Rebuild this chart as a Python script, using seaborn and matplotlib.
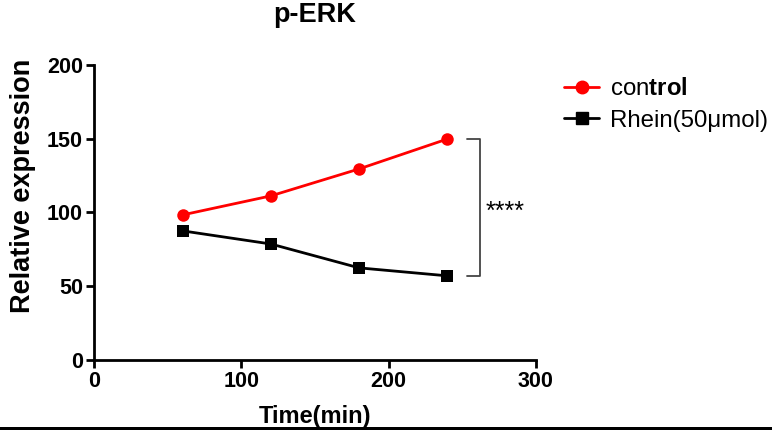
import pandas as pd
import numpy as np
import seaborn as sns
import matplotlib.pyplot as plt
from matplotlib.lines import Line2D

# values
time_min = [60, 120, 180, 240]
control = [98.3, 111.2, 129.5, 149.8]
rhein = [87.5, 78.6, 62.4, 57.0]
groups = ["control", "Rhein(50μmol)"]

df = pd.DataFrame(
    {
        "time": time_min * 2,
        "value": control + rhein,
        "group": [groups[0]] * 4 + [groups[1]] * 4,
    }
)

sns.set_style("ticks")
plt.rcParams["font.family"] = ["Liberation Sans", "DejaVu Sans"]
plt.rcParams["mathtext.fontset"] = "custom"
plt.rcParams["mathtext.rm"] = "Liberation Sans"
plt.rcParams["mathtext.bf"] = "Liberation Sans:bold"
plt.rcParams["text.color"] = "black"
plt.rcParams["axes.labelcolor"] = "black"
plt.rcParams["xtick.color"] = "black"
plt.rcParams["ytick.color"] = "black"
plt.rcParams["axes.edgecolor"] = "black"

fig = plt.figure(figsize=(7.72, 4.30), dpi=100)
ax = fig.add_axes([0.122, 0.163, 0.572, 0.686])

sns.lineplot(
    data=df,
    x="time",
    y="value",
    hue="group",
    style="group",
    palette={groups[0]: "#ff0000", groups[1]: "#000000"},
    markers={groups[0]: "o", groups[1]: "s"},
    dashes=False,
    markersize=9,
    markeredgewidth=0,
    linewidth=2,
    ax=ax,
    legend=False,
)

ax.set_xlim(0, 300)
ax.set_ylim(0, 200)
ax.set_xticks([0, 100, 200, 300])
ax.set_yticks([0, 50, 100, 150, 200])
for s in ["top", "right"]:
    ax.spines[s].set_visible(False)
for s in ["left", "bottom"]:
    ax.spines[s].set_linewidth(2)
ax.tick_params(width=2, length=6, labelsize=15.5, pad=2)
for lab in ax.get_xticklabels() + ax.get_yticklabels():
    lab.set_fontweight("bold")
ax.set_xlabel("Time(min)", fontsize=17, fontweight="bold", labelpad=9)
ax.set_ylabel("Relative expression", fontsize=19.5, fontweight="bold")
ax.yaxis.set_label_coords(-0.131, 0.59)
ax.set_title("p-ERK", fontsize=19.5, fontweight="bold", pad=31)

# significance bracket
bx0, bx1 = 253, 262
ax.plot([bx0, bx1, bx1, bx0], [control[-1], control[-1], rhein[-1], rhein[-1]],
        color="#444444", linewidth=1.3, clip_on=False)
ax.text(bx1 + 4, (control[-1] + rhein[-1]) / 2 - 3, "****", fontsize=18,
        va="center", ha="left")

handles = [
    Line2D([], [], color="#ff0000", marker="o", markersize=9, linewidth=2),
    Line2D([], [], color="#000000", marker="s", markersize=9, linewidth=2),
]
fig.legend(
    handles,
    [r"con$\mathbf{trol}$", groups[1]],
    loc="upper left",
    bbox_to_anchor=(0.703, 0.869),
    frameon=False,
    fontsize=17.3,
    handlelength=1.45,
    handletextpad=0.45,
    labelspacing=0.4,
)

# thin black rule along the bottom edge
fig.add_artist(plt.Rectangle((0, 0), 1, 3 / 430, transform=fig.transFigure,
                             color="black", linewidth=0))

fig.savefig("out.png", dpi=100)
